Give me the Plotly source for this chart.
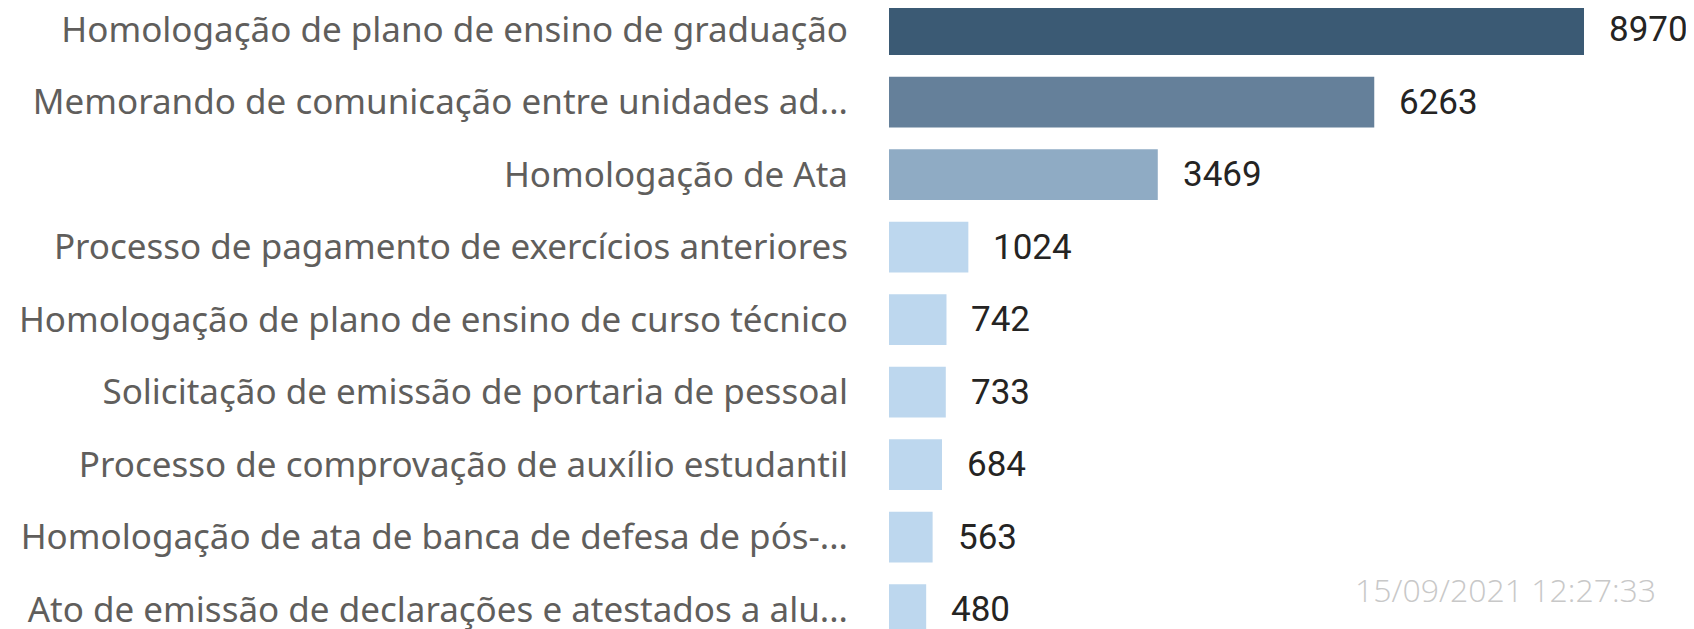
import plotly.graph_objects as go

categories = [
    "Homologação de plano de ensino de graduação",
    "Memorando de comunicação entre unidades ad...",
    "Homologação de Ata",
    "Processo de pagamento de exercícios anteriores",
    "Homologação de plano de ensino de curso técnico",
    "Solicitação de emissão de portaria de pessoal",
    "Processo de comprovação de auxílio estudantil",
    "Homologação de ata de banca de defesa de pós-...",
    "Ato de emissão de declarações e atestados a alu...",
]
values = [8970, 6263, 3469, 1024, 742, 733, 684, 563, 480]
colors = ["#3B5A74", "#65809A", "#8FABC4", "#BDD7EE", "#BDD7EE", "#BDD7EE", "#BDD7EE", "#BDD7EE", "#BDD7EE"]
timestamp = "15/09/2021 12:27:33"

# page body has an 8px margin; figure is sized to fit within the window
W, H = 1686, 621
ML, MR = 881, 110

fig = go.Figure()
fig.add_trace(go.Bar(
    x=values, y=categories, orientation="h",
    marker=dict(color=colors, line=dict(width=0)),
    width=0.70, hoverinfo="skip",
))

vmax = max(values)
for c, v in zip(categories, values):
    fig.add_annotation(
        x=v, y=c, xref="x", yref="y", text=str(v), showarrow=False,
        xanchor="left", yanchor="middle", xshift=23,
        font=dict(family="Roboto", size=35, color="#252423"),
    )

fig.add_annotation(
    x=(1650 - ML) / (W - ML - MR), y=1 - 581 / H, xref="paper", yref="paper",
    text=timestamp, showarrow=False, xanchor="right", yanchor="middle",
    font=dict(family="Open Sans", size=32, color="#C8C8C8", weight=300),
)

fig.update_layout(
    width=W, height=H,
    margin=dict(l=ML, r=MR, t=0, b=0, autoexpand=False),
    paper_bgcolor="white", plot_bgcolor="white",
    showlegend=False,
    xaxis=dict(range=[0, vmax], visible=False, fixedrange=True, automargin=False),
    yaxis=dict(
        type="category", range=[8.269, -0.297], automargin=False,
        showgrid=False, zeroline=False, showline=False, ticks="",
        ticklabelstandoff=40,
        tickfont=dict(family="Noto Sans", size=35, color="#605E5C"),
    ),
)

fig.write_html("out.html")
